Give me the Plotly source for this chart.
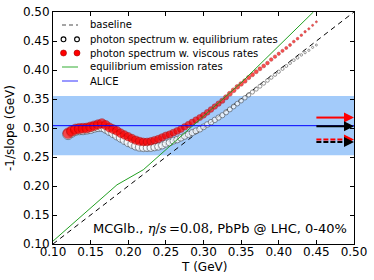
import plotly.graph_objects as go

# ---------------- data ----------------
T_grid = [0.120, 0.125, 0.130, 0.135, 0.140, 0.145, 0.150, 0.155, 0.160, 0.165,
          0.170, 0.175, 0.180, 0.185, 0.190, 0.195, 0.200, 0.205, 0.210, 0.215,
          0.220, 0.225, 0.230, 0.235, 0.240, 0.245, 0.250, 0.255, 0.260, 0.265,
          0.270, 0.275, 0.280, 0.285, 0.290, 0.295, 0.300, 0.305, 0.310, 0.315,
          0.320, 0.325, 0.330, 0.335, 0.340, 0.345, 0.350, 0.355, 0.360, 0.365,
          0.370, 0.375, 0.380, 0.385, 0.390, 0.395, 0.400, 0.405, 0.410, 0.415,
          0.420, 0.425, 0.430, 0.435, 0.440, 0.445, 0.450]

slope_viscous = [0.291, 0.295, 0.298, 0.299, 0.2995, 0.300, 0.302, 0.304, 0.306, 0.308,
                 0.305, 0.301, 0.298, 0.295, 0.291, 0.288, 0.285, 0.282, 0.279, 0.277,
                 0.276, 0.276, 0.277, 0.279, 0.281, 0.284, 0.287, 0.289, 0.292, 0.295,
                 0.298, 0.302, 0.306, 0.310, 0.314, 0.318, 0.322, 0.327, 0.332, 0.337,
                 0.342, 0.347, 0.353, 0.359, 0.365, 0.371, 0.376, 0.381, 0.387, 0.392,
                 0.397, 0.402, 0.407, 0.412, 0.418, 0.423, 0.428, 0.433, 0.438, 0.443,
                 0.449, 0.454, 0.460, 0.466, 0.471, 0.477, 0.483]

slope_equilibrium = [0.289, 0.293, 0.296, 0.297, 0.297, 0.298, 0.299, 0.301, 0.302, 0.302,
                     0.299, 0.295, 0.291, 0.287, 0.283, 0.279, 0.275, 0.272, 0.269, 0.267,
                     0.266, 0.266, 0.266, 0.267, 0.268, 0.270, 0.273, 0.275, 0.278, 0.280,
                     0.283, 0.286, 0.289, 0.292, 0.295, 0.298, 0.302, 0.306, 0.310, 0.314,
                     0.318, 0.322, 0.327, 0.332, 0.337, 0.342, 0.347, 0.352, 0.357, 0.362,
                     0.367, 0.372, 0.377, 0.382, 0.387, 0.392, 0.397, 0.402, 0.407, 0.412,
                     0.417, 0.421, 0.426, 0.430, 0.434, 0.439, 0.443]

emission_T = [0.10, 0.185, 0.22, 0.35, 0.446]
emission_slope = [0.105, 0.202, 0.228, 0.378, 0.50]

baseline_T = [0.10, 0.50]
baseline_slope = [0.10, 0.50]

alice_value = 0.304
alice_low = 0.253
alice_high = 0.355

arrow_values = [0.318, 0.303, 0.280, 0.276]
arrow_colors = ["#ff0000", "#000000", "#ff0000", "#000000"]
arrow_dashes = ["solid", "solid", "5px,2px", "5px,2px"]
arrow_start = 0.45
arrow_end = 0.50

legend_labels = ["baseline",
                 "photon spectrum w. equilibrium rates",
                 "photon spectrum w. viscous rates",
                 "equilibrium emission rates",
                 "ALICE"]

x_title = "T (GeV)"
y_title = "-1/slope (GeV)"

x_range = [0.10, 0.50]
y_range = [0.10, 0.50]
tick_vals = [0.10, 0.15, 0.20, 0.25, 0.30, 0.35, 0.40, 0.45, 0.50]
tick_text = ["0.10", "0.15", "0.20", "0.25", "0.30", "0.35", "0.40", "0.45", "0.50"]

# ---------------- layout geometry ----------------
W, H = 374, 280
ML, MR, MT, MB = 53, 20, 12, 36
PW, PH = W - ML - MR, H - MT - MB


def px_x(p):
    return (p - ML) / PW


def px_y(p):
    return 1 - (p - MT) / PH


FONT = "DejaVu Sans"
fig = go.Figure()

# ALICE band
fig.add_trace(go.Scatter(x=[x_range[0], x_range[1], x_range[1], x_range[0]],
                         y=[alice_low, alice_low, alice_high, alice_high],
                         fill="toself", fillcolor="rgb(163,203,250)", mode="none",
                         hoverinfo="skip", showlegend=False))

# baseline
fig.add_trace(go.Scatter(x=baseline_T, y=baseline_slope, mode="lines",
                         line=dict(color="black", width=1, dash="5px,4px"),
                         showlegend=False))

span = T_grid[-1] - T_grid[0]
sizes = [10.5 - 8.5 * (t - T_grid[0]) / span for t in T_grid]

fig.add_trace(go.Scatter(x=T_grid, y=slope_equilibrium, mode="markers",
                         marker=dict(symbol="circle", size=sizes, color="white",
                                     line=dict(color="#444", width=0.8)),
                         showlegend=False))
fig.add_trace(go.Scatter(x=T_grid, y=slope_viscous, mode="markers",
                         marker=dict(symbol="circle", size=sizes, color="#ff0000",
                                     line=dict(color="#a00000", width=0.6)),
                         showlegend=False))

fig.add_trace(go.Scatter(x=emission_T, y=emission_slope, mode="lines",
                         line=dict(color="#22a022", width=1), showlegend=False))

fig.add_trace(go.Scatter(x=x_range, y=[alice_value, alice_value], mode="lines",
                         line=dict(color="#0000ff", width=1), showlegend=False))

# arrows
for v, c, d in zip(arrow_values, arrow_colors, arrow_dashes):
    fig.add_trace(go.Scatter(x=[arrow_start, arrow_end - 0.008], y=[v, v], mode="lines",
                             line=dict(color=c, width=2, dash=d), showlegend=False,
                             cliponaxis=False))
    fig.add_annotation(x=arrow_end, y=v, ax=arrow_end - 0.012, ay=v,
                       xref="x", yref="y", axref="x", ayref="y", text="",
                       showarrow=True, arrowhead=2, arrowsize=1.0, arrowwidth=2,
                       arrowcolor=c)

# ---------------- hand-drawn legend (matplotlib style) ----------------
row_px = [25, 39.3, 53, 67, 81]
sample_x0, sample_x1, text_x = 62, 78, 88
for i, (label, ry) in enumerate(zip(legend_labels, row_px)):
    fig.add_annotation(x=px_x(text_x), y=px_y(ry), xref="paper", yref="paper",
                       xanchor="left", yanchor="middle", showarrow=False, text=label,
                       font=dict(family=FONT, size=10, color="black"))
    if i in (0, 3, 4):
        col = {0: "#888888", 3: "#99d699", 4: "#9999ff"}[i]
        dash = "4px,3px" if i == 0 else "solid"
        fig.add_shape(type="line", xref="paper", yref="paper",
                      x0=px_x(sample_x0), x1=px_x(sample_x1), y0=px_y(ry), y1=px_y(ry),
                      line=dict(color=col, width=1.5 if i == 0 else 2, dash=dash))
    else:
        r = 2.4 if i == 1 else 3.0
        fill = "white" if i == 1 else "#ff0000"
        edge = "black" if i == 1 else "#a00000"
        for cx in (sample_x0 + 1.5, sample_x1 - 1):
            fig.add_shape(type="circle", xref="paper", yref="paper",
                          x0=px_x(cx - r), x1=px_x(cx + r),
                          y0=px_y(ry + r), y1=px_y(ry - r),
                          fillcolor=fill, line=dict(color=edge, width=1.1 if i == 1 else 0.6))

fig.add_annotation(x=0.150, y=0.126, xref="x", yref="y", xanchor="left", yanchor="middle",
                   showarrow=False,
                   text="MCGlb., <span style='font-family:DejaVu Serif'><i>η</i>/<i>s</i>\u2009=0.08</span>, PbPb @ LHC, 0-40%",
                   font=dict(family=FONT, size=13, color="black"))

# axis titles
fig.add_annotation(x=0.5, y=px_y(267), xref="paper", yref="paper", showarrow=False,
                   xanchor="center", yanchor="middle", text=x_title,
                   font=dict(family=FONT, size=12, color="black"))
fig.add_annotation(x=px_x(10), y=0.5, xref="paper", yref="paper", showarrow=False,
                   xanchor="center", yanchor="middle", text=y_title, textangle=-90,
                   font=dict(family=FONT, size=12, color="black"))

axis_common = dict(showline=True, linecolor="black", linewidth=1, mirror="ticks",
                   ticks="inside", ticklen=4, tickcolor="black", showgrid=False,
                   zeroline=False, tickvals=tick_vals, ticktext=tick_text,
                   automargin=False,
                   tickfont=dict(family=FONT, size=12, color="black"))

fig.update_layout(
    width=W, height=H,
    margin=dict(l=ML, r=MR, t=MT, b=MB),
    paper_bgcolor="white", plot_bgcolor="white",
    font=dict(family=FONT, color="black"),
    xaxis=dict(range=x_range, ticklabelstandoff=-3, **axis_common),
    yaxis=dict(range=y_range, **axis_common),
    showlegend=False,
)

fig.write_html("out.html", config={"displayModeBar": False},
               post_script="document.body.style.margin='0px';document.body.style.overflow='hidden';")
